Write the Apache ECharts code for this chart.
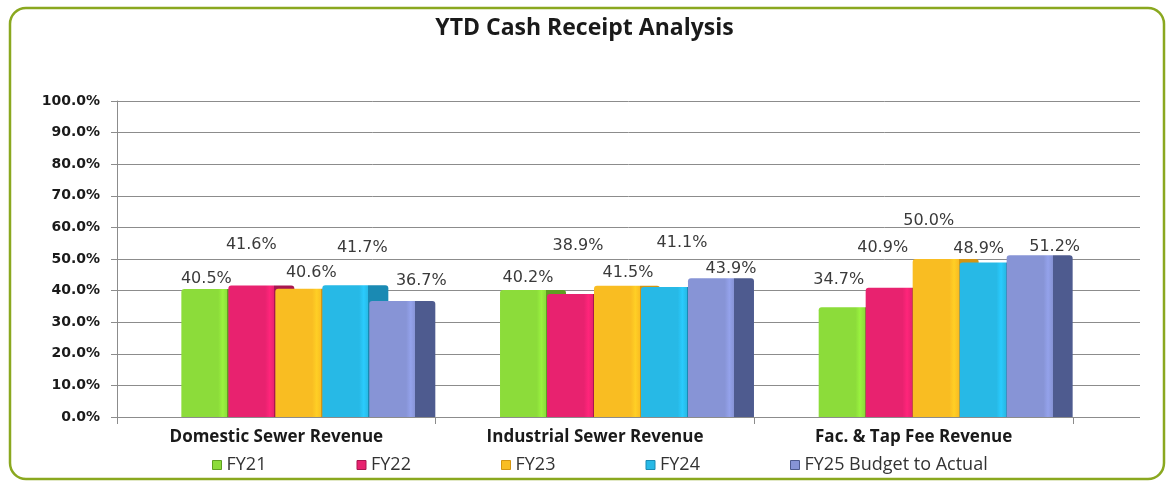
<!DOCTYPE html>
<html>
<head>
<meta charset="utf-8">
<script src="https://cdn.jsdelivr.net/npm/echarts@6/dist/echarts.min.js"></script>
<style>
  html, body { margin: 0; padding: 0; background: #fff; }
  #chart { width: 1169px; height: 484px; }
</style>
</head>
<body>
<div id="chart"></div>
<script>
  // data
  var categories = ["Domestic Sewer Revenue", "Industrial Sewer Revenue", "Fac. & Tap Fee Revenue"];
  var seriesNames = ["FY21", "FY22", "FY23", "FY24", "FY25 Budget to Actual"];
  var fy21 = [40.5, 40.2, 34.7];
  var fy22 = [41.6, 38.9, 40.9];
  var fy23 = [40.6, 41.5, 50.0];
  var fy24 = [41.7, 41.1, 48.9];
  var fy25 = [36.7, 43.9, 51.2];
  var yTicks = [0, 10, 20, 30, 40, 50, 60, 70, 80, 90, 100];

  // front / side colours per series
  var fronts = ["#8cdc3a", "#e8226f", "#f9bd22", "#27b9e6", "#8794d6"];
  var sides = ["#5f9f22", "#a8164f", "#d39512", "#1a8ab3", "#4e5b8f"];
  // excel staggered the value labels; lift above bar top / sideways nudge, per series and category
  var labelLift = [[2, 4, 20], [33, 40, 32], [8, 5, 30], [29, 36, 6], [12, 1, 0]];
  var labelShift = [[-8, -5, -13], [-10, -2, -16], [3, 1, -17], [7, 8, -14], [19, 10, 15]];

  var chart = echarts.init(document.getElementById("chart"));

  function barColor(i) {
    var f = 46 / 66;
    return new echarts.graphic.LinearGradient(0, 0, 1, 0, [
      { offset: 0, color: fronts[i] },
      { offset: f * 0.8, color: fronts[i] },
      { offset: f * 0.9, color: echarts.color.lift(fronts[i], -0.1) },
      { offset: f, color: fronts[i] },
      { offset: f, color: sides[i] },
      { offset: 1, color: sides[i] }
    ]);
  }

  var allData = [fy21, fy22, fy23, fy24, fy25];
  var series = allData.map(function (d, i) {
    return {
      name: seriesNames[i],
      type: "bar",
      xAxisIndex: 2,
      yAxisIndex: 2,
      data: d.map(function (v, j) {
        return { value: v, label: { distance: labelLift[i][j], offset: [labelShift[i][j], 0] } };
      }),
      barWidth: 66,
      barGap: "-28.8%",
      itemStyle: { color: barColor(i), borderRadius: [3, 3, 0, 0] },
      label: {
        show: true,
        position: "top",
        formatter: function (p) { return p.value.toFixed(1) + "%"; },
        fontFamily: "DejaVu Sans",
        fontSize: 16,
        color: "#3a3a3a"
      }
    };
  });

  // one legend box per entry so the entries sit at even steps like the original
  var legends = seriesNames.map(function (n, i) {
    return {
      left: 212 + 144.5 * i,
      top: 456,
      padding: 0,
      itemWidth: 9,
      itemHeight: 9,
      icon: "rect",
      textStyle: { fontFamily: "Open Sans", fontSize: 18, color: "#333" },
      data: [{ name: n, itemStyle: { color: fronts[i], borderColor: sides[i], borderWidth: 1 } }]
    };
  });

  var option = {
    backgroundColor: "#fff",
    animation: false,
    title: {
      text: "YTD Cash Receipt Analysis",
      left: "center",
      top: 12,
      textStyle: { fontFamily: "Open Sans", fontWeight: "bold", fontSize: 23, color: "#1a1a1a" }
    },
    graphic: [{
      type: "rect",
      shape: { x: 10, y: 8, width: 1154, height: 471, r: 16 },
      style: { fill: "none", stroke: "#8aa81f", lineWidth: 2.5 },
      z: -1
    }],
    legend: legends,
    grid: [
      { left: 117, top: 101, width: 1023, height: 316 },
      { left: 117, top: 101, width: 956, height: 316 },
      { left: 149, top: 101, width: 956, height: 316 }
    ],
    xAxis: [
      { type: "value", gridIndex: 0, show: false, min: 0, max: 1 },
      {
        type: "category",
        gridIndex: 1,
        data: categories,
        axisLine: { show: true, lineStyle: { color: "#8c8c8c" } },
        axisTick: { show: true, length: 7, lineStyle: { color: "#8c8c8c" } },
        axisLabel: {
          margin: 12,
          fontFamily: "Open Sans",
          fontWeight: "bold",
          fontSize: 17,
          color: "#1a1a1a"
        }
      },
      { type: "category", gridIndex: 2, data: categories, show: false }
    ],
    yAxis: [
      {
        type: "value",
        gridIndex: 0,
        min: yTicks[0],
        max: yTicks[yTicks.length - 1],
        interval: 10,
        axisLine: { show: true, lineStyle: { color: "#8c8c8c" } },
        axisTick: { show: true, length: 6, lineStyle: { color: "#8c8c8c" } },
        splitLine: { lineStyle: { color: "#8c8c8c", width: 1 } },
        axisLabel: {
          margin: 17,
          formatter: function (v) { return v.toFixed(1) + "%"; },
          fontFamily: "DejaVu Sans",
          fontWeight: "bold",
          fontSize: 14,
          color: "#1a1a1a"
        }
      },
      { type: "value", gridIndex: 1, min: 0, max: 100, show: false },
      { type: "value", gridIndex: 2, min: 0, max: 100, show: false }
    ],
    series: series
  };

  chart.setOption(option);
</script>
</body>
</html>
